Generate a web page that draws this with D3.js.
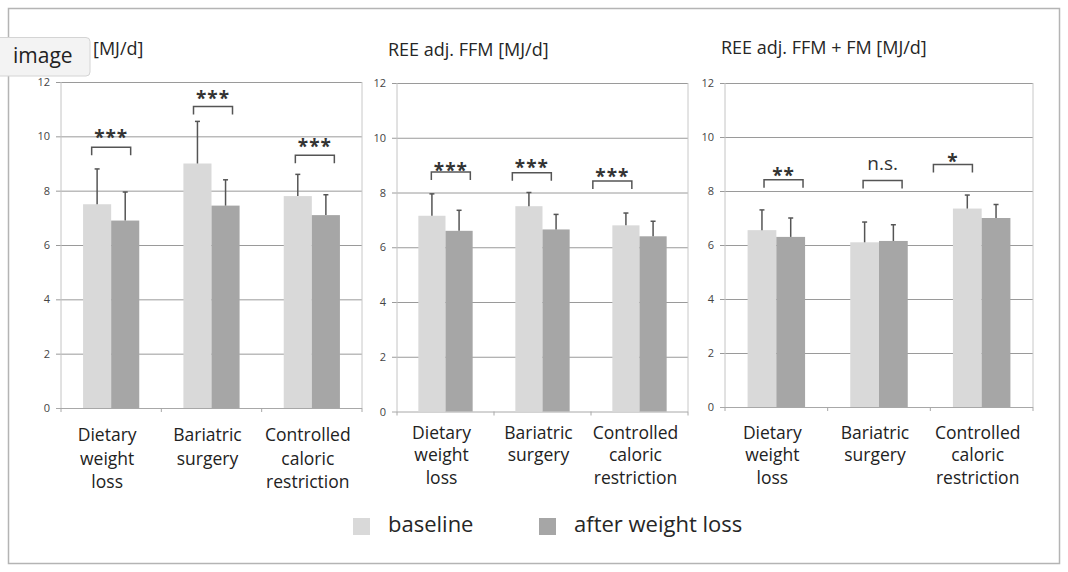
<!DOCTYPE html>
<html>
<head>
<meta charset="utf-8">
<script src="https://cdn.jsdelivr.net/npm/d3@7"></script>
<style>
  body { margin: 0; background: #fff; }
  svg { display: block; font-family: "Open Sans", sans-serif; }
</style>
</head>
<body>
<svg id="chart" width="1068" height="572"></svg>
<script>
/* ── data ─────────────────────────────────────────────────────────────────── */

const categories = [
  "Dietary weight loss",
  "Bariatric surgery",
  "Controlled caloric restriction",
];
const series = ["baseline", "after weight loss"];
// first title: only the unit is visible next to the badge
const panelTitles = ["[MJ/d]", "REE adj. FFM [MJ/d]", "REE adj. FFM + FM [MJ/d]"];
const yTicks = [0, 2, 4, 6, 8, 10, 12];

// means and SD (upper error bar) per category, MJ/d
const reeBaseline = [7.5, 9.0, 7.8];
const reeBaselineSd = [1.3, 1.55, 0.8];
const reeAfter = [6.9, 7.45, 7.1];
const reeAfterSd = [1.05, 0.95, 0.75];

const ffmBaseline = [7.15, 7.5, 6.8];
const ffmBaselineSd = [0.8, 0.5, 0.45];
const ffmAfter = [6.6, 6.65, 6.4];
const ffmAfterSd = [0.75, 0.55, 0.55];

const ffmFmBaseline = [6.55, 6.1, 7.35];
const ffmFmBaselineSd = [0.75, 0.75, 0.5];
const ffmFmAfter = [6.3, 6.15, 7.0];
const ffmFmAfterSd = [0.7, 0.6, 0.5];

// significance annotations: label, bracket level, label baseline level (MJ/d)
const reeSig = ["***", "***", "***"];
const reeBracketAt = [9.6, 11.1, 9.3];
const reeLabelAt = [9.7, 11.15, 9.39];

const ffmSig = ["***", "***", "***"];
const ffmBracketAt = [8.75, 8.72, 8.42];
const ffmLabelAt = [8.55, 8.67, 8.34];

const ffmFmSig = ["**", "n.s.", "*"];
const ffmFmBracketAt = [8.42, 8.39, 8.98];
const ffmFmLabelAt = [8.32, 8.78, 8.87];

const SERIES_COLORS = { baseline: "#d9d9d9", "after weight loss": "#a6a6a6" };

/* ── layout ───────────────────────────────────────────────────────────────── */

const layout = [
  { x0: 61, x1: 362, top: 82, bottom: 408, labelY: 441, lineH: 23.5,
    titleX: 93, titleY: 55, shift: [0, 0.015, 0.03] },
  { x0: 397, x1: 688, top: 83, bottom: 411.5, labelY: 438.5, lineH: 22.5,
    titleX: 388, titleY: 55.5, shift: [0.055, -0.11, -0.28] },
  { x0: 725, x1: 1033, top: 83, bottom: 407, labelY: 438.5, lineH: 22.5,
    titleX: 721, titleY: 53.5, shift: [0.07, 0.035, -0.28] },
];

const panels = [
  { means: [reeBaseline, reeAfter], sds: [reeBaselineSd, reeAfterSd],
    sig: reeSig, bracketAt: reeBracketAt, labelAt: reeLabelAt },
  { means: [ffmBaseline, ffmAfter], sds: [ffmBaselineSd, ffmAfterSd],
    sig: ffmSig, bracketAt: ffmBracketAt, labelAt: ffmLabelAt },
  { means: [ffmFmBaseline, ffmFmAfter], sds: [ffmFmBaselineSd, ffmFmAfterSd],
    sig: ffmFmSig, bracketAt: ffmFmBracketAt, labelAt: ffmFmLabelAt },
];

const svg = d3.select("#chart");

// outer frame
svg.append("rect")
  .attr("x", 8.5).attr("y", 8.5)
  .attr("width", 1051).attr("height", 555)
  .attr("fill", "none")
  .attr("stroke", "#b4b4b4")
  .attr("stroke-width", 1.5);

/* ── panels ───────────────────────────────────────────────────────────────── */

panels.forEach((p, pi) => {
  const L = layout[pi];
  const g = svg.append("g");

  const x = d3.scaleBand().domain(categories).range([L.x0, L.x1]);
  const bw = x.bandwidth();
  const xs = d3.scaleBand().domain(series).range([bw * 0.22, bw * 0.78]);
  const y = d3.scaleLinear().domain([0, 12]).range([L.bottom, L.top]);

  // title
  g.append("text")
    .attr("x", L.titleX)
    .attr("y", L.titleY)
    .attr("font-size", "18px")
    .attr("fill", "#262626")
    .text(panelTitles[pi]);

  // y axis with gridlines
  const yAxis = g.append("g")
    .attr("transform", `translate(${L.x0},0)`)
    .call(
      d3.axisLeft(y)
        .tickValues(yTicks)
        .tickSizeInner(-(L.x1 - L.x0))
        .tickSizeOuter(0)
        .tickPadding(11)
        .tickFormat(d3.format("d"))
    );
  yAxis.select(".domain").remove();
  yAxis.selectAll(".tick line")
    .attr("x1", -5)
    .attr("stroke", (d) => (d === 0 ? "#a8a8a8" : "#9a9a9a"))
    .attr("stroke-width", 1);
  yAxis.selectAll(".tick text")
    .attr("font-family", "Open Sans, sans-serif")
    .attr("font-size", "11px")
    .attr("fill", "#444");

  // left axis and right border
  g.append("line")
    .attr("x1", L.x0).attr("x2", L.x0)
    .attr("y1", L.top).attr("y2", L.bottom)
    .attr("stroke", "#c4c4c4");
  g.append("line")
    .attr("x1", L.x1).attr("x2", L.x1)
    .attr("y1", L.top).attr("y2", L.bottom)
    .attr("stroke", "#c8c8c8");

  // category boundary ticks
  const bounds = categories.map((c) => x(c)).concat([L.x1]);
  g.selectAll("line.cat-tick")
    .data(bounds)
    .enter()
    .append("line")
    .attr("class", "cat-tick")
    .attr("x1", (d) => d).attr("x2", (d) => d)
    .attr("y1", L.bottom).attr("y2", L.bottom + 4)
    .attr("stroke", "#a8a8a8");

  // bars
  const barData = [];
  categories.forEach((c, ci) => {
    series.forEach((s, si) => {
      barData.push({ cat: c, ser: s, val: p.means[si][ci], sd: p.sds[si][ci] });
    });
  });

  g.selectAll("rect.bar")
    .data(barData)
    .enter()
    .append("rect")
    .attr("class", "bar")
    .attr("x", (d) => x(d.cat) + xs(d.ser))
    .attr("width", xs.bandwidth())
    .attr("y", (d) => y(d.val))
    .attr("height", (d) => y(0) - y(d.val))
    .attr("fill", (d) => SERIES_COLORS[d.ser]);

  // error bars (upper only)
  const err = g.selectAll("g.err")
    .data(barData)
    .enter()
    .append("g")
    .attr("class", "err")
    .attr("stroke", "#555")
    .attr("stroke-width", 1.5);
  const cx = (d) => x(d.cat) + xs(d.ser) + xs.bandwidth() / 2;
  err.append("line")
    .attr("x1", cx).attr("x2", cx)
    .attr("y1", (d) => y(d.val))
    .attr("y2", (d) => y(d.val + d.sd));
  err.append("line")
    .attr("x1", (d) => cx(d) - 2.5).attr("x2", (d) => cx(d) + 2.5)
    .attr("y1", (d) => y(d.val + d.sd))
    .attr("y2", (d) => y(d.val + d.sd));

  // significance brackets
  const half = 19.5, leg = 8;
  categories.forEach((c, ci) => {
    const mx = x(c) + bw / 2 + L.shift[ci] * bw;
    const by = y(p.bracketAt[ci]);
    g.append("path")
      .attr("d", `M${mx - half},${by + leg}V${by}H${mx + half}V${by + leg}`)
      .attr("fill", "none")
      .attr("stroke", "#555")
      .attr("stroke-width", 1.5);
    const lab = p.sig[ci];
    const isStars = /^\*+$/.test(lab);
    g.append("text")
      .attr("x", mx)
      .attr("y", y(p.labelAt[ci]))
      .attr("text-anchor", "middle")
      .attr("font-size", "19px")
      .attr("font-weight", isStars ? "bold" : "normal")
      .attr("letter-spacing", isStars ? "1px" : "0")
      .attr("fill", "#333")
      .text(lab);
  });

  // category labels
  g.selectAll("text.cat")
    .data(categories)
    .enter()
    .append("text")
    .attr("class", "cat")
    .attr("text-anchor", "middle")
    .attr("font-size", "17.5px")
    .attr("fill", "#222")
    .each(function (c) {
      const t = d3.select(this);
      c.split(" ").forEach((w, wi) => {
        t.append("tspan")
          .attr("x", x(c) + bw / 2 - 4)
          .attr("y", L.labelY + wi * L.lineH)
          .text(w);
      });
    });
});

/* ── legend ───────────────────────────────────────────────────────────────── */

const legendX = [353, 539];
series.forEach((s, i) => {
  svg.append("rect")
    .attr("x", legendX[i]).attr("y", 518)
    .attr("width", 17).attr("height", 17)
    .attr("fill", SERIES_COLORS[s]);
  svg.append("text")
    .attr("x", legendX[i] + 35)
    .attr("y", 532)
    .attr("font-size", "22px")
    .attr("fill", "#262626")
    .text(s);
});

/* ── "image" badge ────────────────────────────────────────────────────────── */

svg.append("rect")
  .attr("x", -4).attr("y", 37.5)
  .attr("width", 94).attr("height", 38.5)
  .attr("rx", 4)
  .attr("fill", "#f3f3f3")
  .attr("stroke", "#d4d4d4");
svg.append("text")
  .attr("x", 13).attr("y", 63)
  .attr("font-size", "21px")
  .attr("fill", "#222")
  .text("image");
</script>
</body>
</html>
